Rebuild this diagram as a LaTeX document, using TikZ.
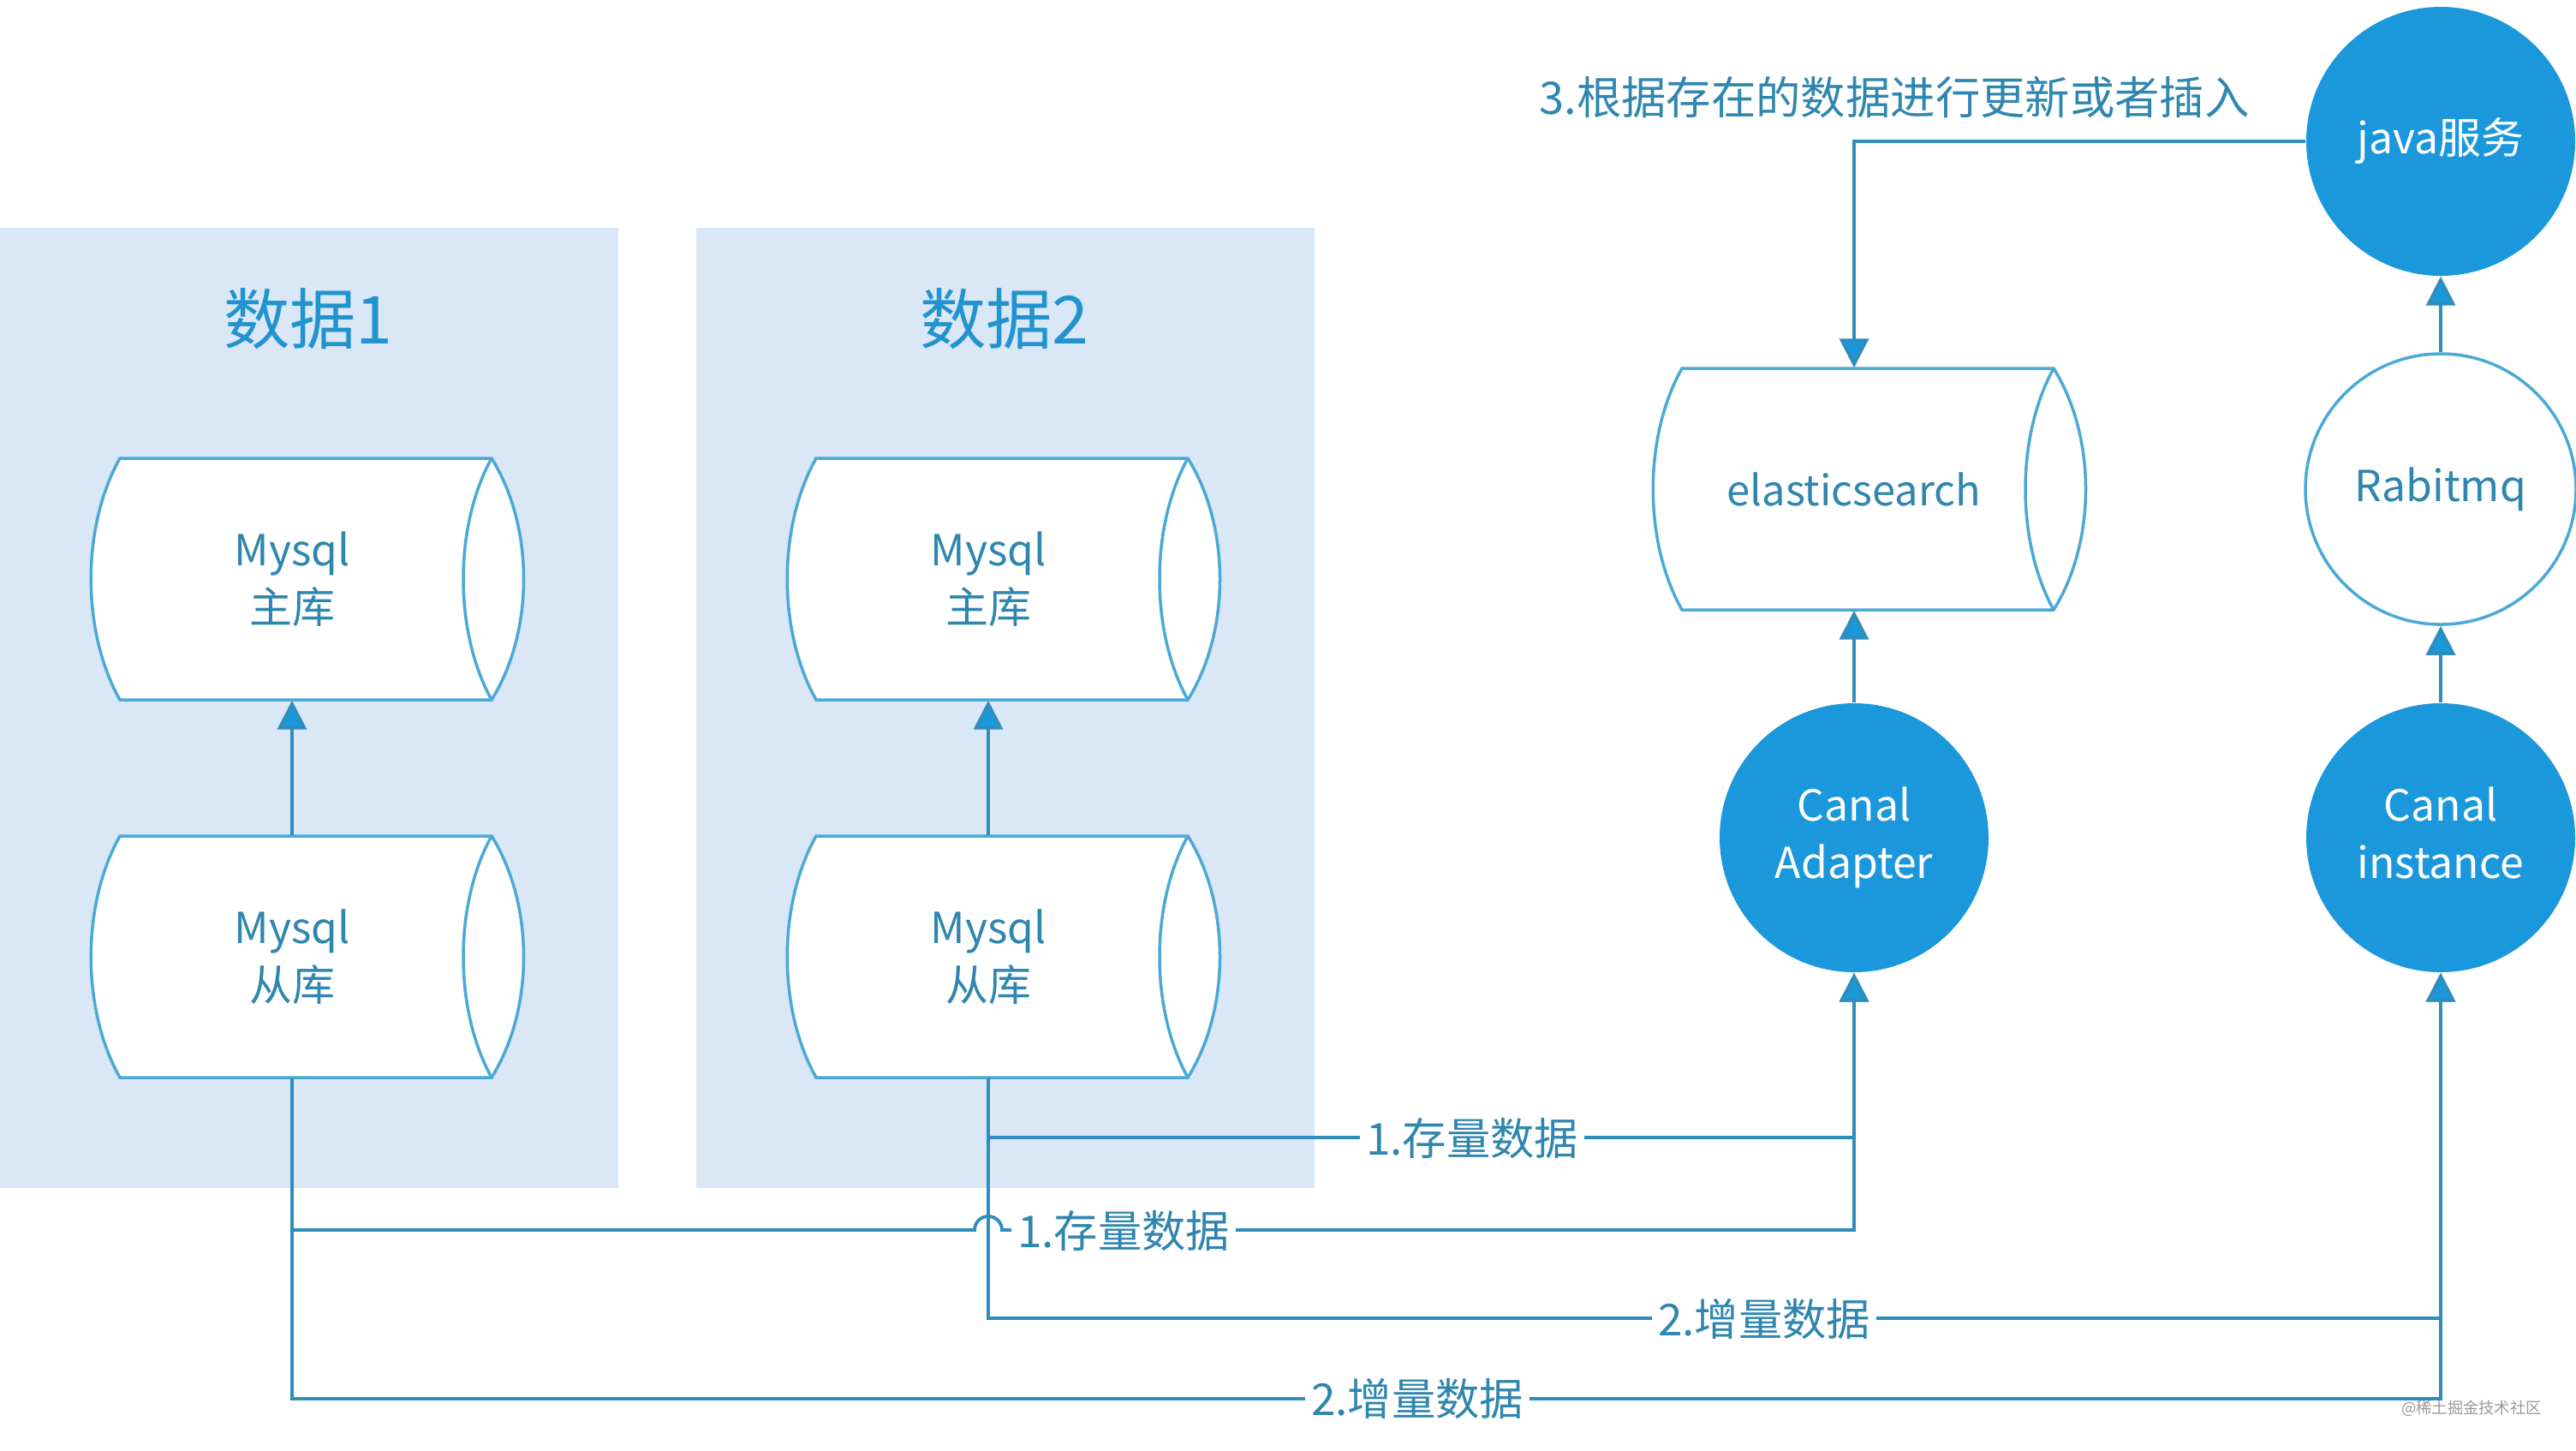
\documentclass[tikz,border=0pt]{standalone}
\usepackage{fontspec}
\setmainfont{Noto Sans CJK SC}
\usepackage{xcolor}
\usetikzlibrary{arrows.meta}
\usetikzlibrary{calc}
\usetikzlibrary{positioning}
\definecolor{panelblue}{HTML}{DAE7F7}
\definecolor{hubblue}{HTML}{1B98DC}
\definecolor{edgeblue}{HTML}{4BA9D6}
\definecolor{wireblue}{HTML}{2F8DBB}
\definecolor{inkblue}{HTML}{2F86AE}
\tikzstyle{panel}    = [rectangle, fill=panelblue, minimum width=7.22cm, minimum height=11.21cm, inner sep=0pt]
\tikzstyle{title}    = [text=hubblue!70!inkblue, font=\fontsize{22}{26}\selectfont]
\tikzstyle{store}    = [rectangle, minimum width=4.01cm, minimum height=2.82cm, inner sep=0pt, align=center, text=inkblue, font=\fontsize{14.2}{19}\selectfont]
\tikzstyle{drum}     = [draw=edgeblue, fill=white, line width=1pt, line join=miter]
\tikzstyle{hub}      = [circle, fill=hubblue, minimum size=3.14cm, inner sep=0pt, align=center, text=white, font=\fontsize{14.2}{19}\selectfont]
\tikzstyle{ring}     = [circle, draw=edgeblue, fill=white, line width=1pt, minimum size=3.16cm, inner sep=0pt, text=inkblue, font=\fontsize{14.2}{19}\selectfont]
\tikzstyle{line}     = [draw=wireblue, line width=1.1pt, -{Triangle[length=3.4mm,width=3.4mm,fill=hubblue]}]
\tikzstyle{lbl}      = [fill=white, inner xsep=2pt, inner ysep=1pt, text=inkblue, font=\fontsize{14.6}{18}\selectfont]
% barrel with pointed ends, then its named node on top
\newcommand{\barrel}[3]{
        \begin{scope}[shift={#2}]
        \path [drum] (-2.01,1.41) -- (2.33,1.41) .. controls +(0.50,-0.80) and +(0.50,0.80) .. (2.33,-1.41) -- (-2.01,-1.41) .. controls +(-0.45,0.80) and +(-0.45,-0.80) .. cycle;
        \path [drum, fill=none] (2.33,1.41) .. controls +(-0.44,-0.80) and +(-0.44,0.80) .. (2.33,-1.41);
        \end{scope}
        \node [store] (#1) at #2 {#3};
}

\begin{document}
\begin{tikzpicture}[node distance = 2cm]
        \useasboundingbox (0,0) rectangle (30.08,-16.93);
        \node [panel] (panel1) at (3.61,-8.26) {};
        \node [panel, right of=panel1, node distance=8.13cm] (panel2) {};
        \node [title] (title1) at (3.60,-3.72) {数据1};
        \node [title, right of=title1, node distance=8.13cm] (title2) {数据2};
        \barrel{slave1}{(3.41,-11.17)}{Mysql\\从库}
        \barrel{master1}{(3.41,-6.76)}{Mysql\\主库}
        \barrel{slave2}{(11.54,-11.17)}{Mysql\\从库}
        \barrel{master2}{(11.54,-6.76)}{Mysql\\主库}
        \barrel{elastic}{(21.65,-5.71)}{\fontsize{13.9}{19}\selectfont elasticsearch}
        \node [hub, below of=elastic, node distance=4.07cm] (adapter) {Canal\\Adapter};
        \node [ring] (rabbit) at (28.50,-5.71) {Rabitmq};
        \node [hub, below of=rabbit, node distance=4.07cm] (instance) {Canal\\instance\vphantom{p}};
        \node [hub, above of=rabbit, node distance=4.06cm] (java) {java服务};
        \path [line] (slave1) -- (master1.south);
        \path [line] (slave2) -- (master2.south);
        \path [line] (adapter) -- (elastic.south);
        \path [line] (instance) -- (rabbit);
        \path [line] (rabbit) -- (java);
        \path [line] (java) -| (elastic.north);
        \coordinate (jump1) at (11.38,-14.36);
        \path [line] (slave2.south) |- (21.65,-13.28) -- (adapter);
        \path [line] (slave1.south) |- (jump1) arc[start angle=180, end angle=0, radius=0.16] -| (adapter);
        \path [line] (slave2.south) |- (28.50,-15.39) -- (instance);
        \path [line] (slave1.south) |- (28.50,-16.33) -- (instance);
        \node [lbl] (stock2) at (17.19,-13.29) {1.存量数据};
        \node [lbl] (stock1) at (13.12,-14.37) {1.存量数据};
        \node [lbl] (delta2) at (20.60,-15.40) {2.增量数据};
        \node [lbl] (delta1) at (16.55,-16.33) {2.增量数据};
        \node [text=inkblue, font=\fontsize{14.9}{18}\selectfont] (note) at (22.12,-1.14) {3.根据存在的数据进行更新或者插入};
        \node [text=black!40, font=\fontsize{5.2}{7}\selectfont] (mark) at (28.86,-16.44) {@稀土掘金技术社区};
    \end{tikzpicture}
\end{document}
